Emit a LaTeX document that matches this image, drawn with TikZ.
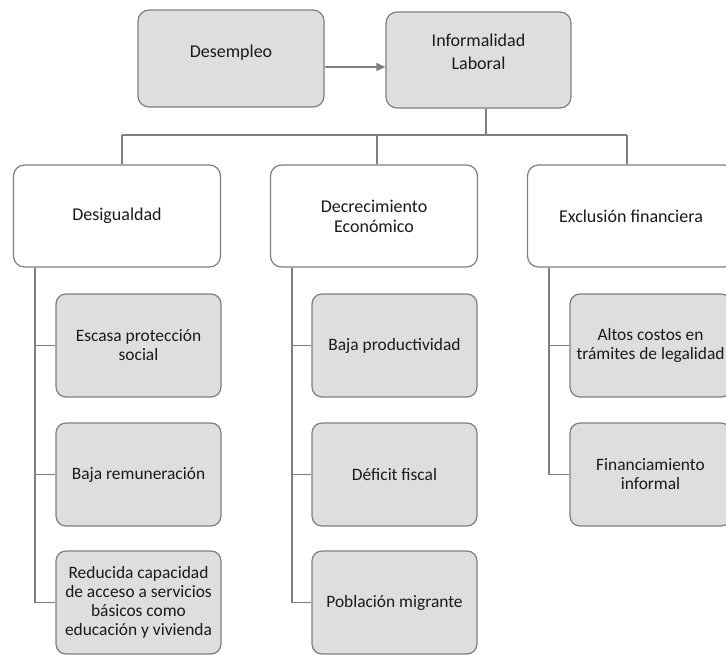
\documentclass[tikz,border=0pt]{standalone}
\usepackage{fontspec}
\setmainfont{Carlito}
\usetikzlibrary{arrows.meta}
\definecolor{boxfill}{HTML}{DEDEDE}
\definecolor{edgegray}{HTML}{7F7F7F}
\definecolor{txt}{HTML}{1A1A1A}
\tikzset{
  base/.style={draw=edgegray, line width=1.2pt, rounded corners=11pt, align=center, text=txt, inner sep=0pt},
  topbox/.style={base, fill=boxfill},
  midbox/.style={base, fill=white, minimum width=207pt, minimum height=102pt, font=\fontsize{18}{20}\selectfont},
  leafbox/.style={base, fill=boxfill, rounded corners=10pt, minimum width=165pt, minimum height=103pt, font=\fontsize{17.4}{19}\selectfont},
  lbl/.style={align=center, text=txt, inner sep=0pt, font=\fontsize{18}{23}\selectfont},
  conn/.style={draw=edgegray, line width=1.4pt},
}
\begin{document}
\begin{tikzpicture}[x=1pt,y=-1pt]
\useasboundingbox (0,0) rectangle (726,654);
\clip (0,0) rectangle (726,654);
% top level
\node[topbox, minimum width=186pt, minimum height=97pt] (des) at (231,58.5) {};
\node[lbl] (deslbl) at ([yshift=6pt]des.center) {Desempleo};
\node[topbox, minimum width=185pt, minimum height=96pt] (inf) at (478.5,60) {};
\node[lbl] (inflbl) at ([yshift=8pt]inf.center) {Informalidad\\Laboral};
\coordinate (ay) at (0,67);
\draw[conn, -{Triangle[length=9pt,width=8pt]}] (des.east |- ay) -- (inf.west |- ay);
% second level
\node[midbox] (d1) at (117,216) {Desigualdad};
\node[midbox] (d2) at (374,216) {Decrecimiento\\Económico};
\node[midbox] (d3) at (631,216) {Exclusión financiera};
\coordinate (bus) at (486,135);
\coordinate (c1) at (122,135);
\coordinate (c2) at (377,135);
\coordinate (c3) at (627,135);
\draw[conn] (inf.south -| bus) -- (bus);
\draw[conn] (c1) -- (c3);
\draw[conn] (c1) -- (c1 |- d1.north);
\draw[conn] (c2) -- (c2 |- d2.north);
\draw[conn] (c3) -- (c3 |- d3.north);
% leaves
\node[leafbox] (a1) at (138.5,345.5) {Escasa protección\\social};
\node[leafbox] (a2) at (138.5,474.5) {Baja remuneración};
\node[leafbox] (a3) at (138.5,602.5) {Reducida capacidad\\de acceso a servicios\\básicos como\\educación y vivienda};
\node[leafbox] (b1) at (394.5,345.5) {Baja productividad};
\node[leafbox] (b2) at (394.5,474.5) {Déficit fiscal};
\node[leafbox] (b3) at (394.5,602.5) {Población migrante};
\node[leafbox, minimum width=161pt] (e1) at (650.5,345.5) {Altos costos en\\trámites de legalidad};
\node[leafbox, minimum width=161pt] (e2) at (650.5,474.5) {Financiamiento\\informal};
% spines
\coordinate (s1) at (35,267);
\coordinate (s2) at (292,267);
\coordinate (s3) at (549,267);
\draw[conn] (s1 |- d1.south) |- (a3.west);
\draw[conn] (s1 |- a1.west) -- (a1.west);
\draw[conn] (s1 |- a2.west) -- (a2.west);
\draw[conn] (s2 |- d2.south) |- (b3.west);
\draw[conn] (s2 |- b1.west) -- (b1.west);
\draw[conn] (s2 |- b2.west) -- (b2.west);
\draw[conn] (s3 |- d3.south) |- (e2.west);
\draw[conn] (s3 |- e1.west) -- (e1.west);
\end{tikzpicture}
\end{document}
